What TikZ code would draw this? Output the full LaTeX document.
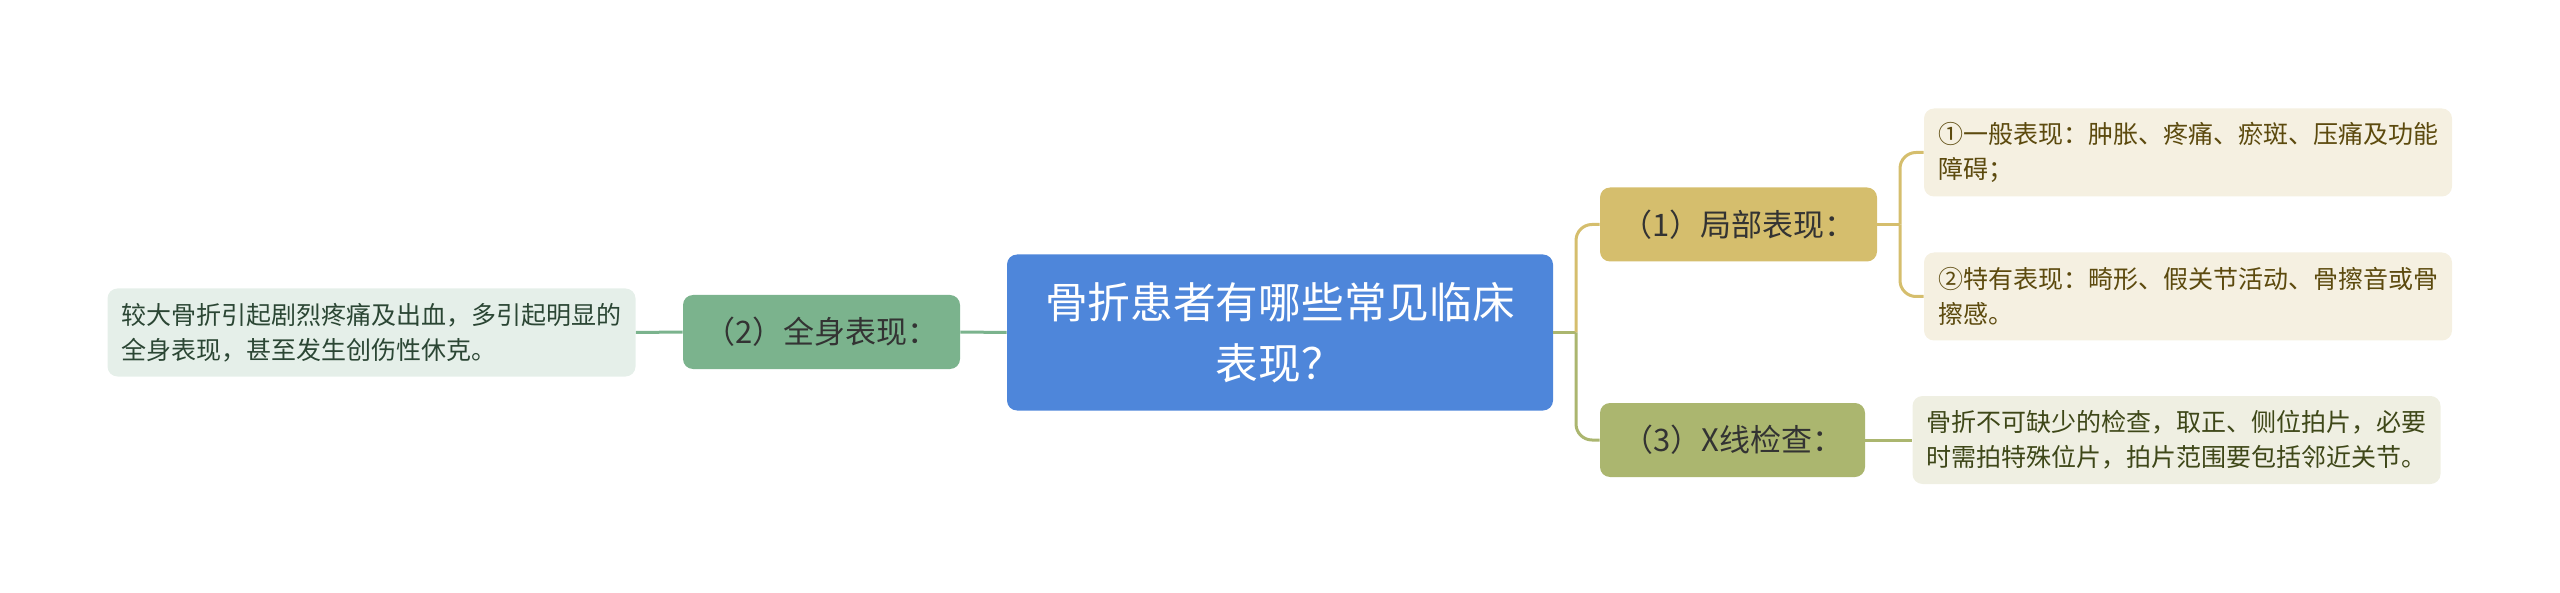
\documentclass[tikz,border=0pt]{standalone}
\usepackage{fontspec}
\setmainfont{Noto Sans CJK SC}
\definecolor{rootblue}{HTML}{4E86DA}
\definecolor{greenbox}{HTML}{7BB38D}
\definecolor{greenleaf}{HTML}{E5EFE9}
\definecolor{greentext}{HTML}{2B4634}
\definecolor{tanbox}{HTML}{D5BE6D}
\definecolor{tanleaf}{HTML}{F5F0E1}
\definecolor{tantext}{HTML}{5C4A0E}
\definecolor{olivebox}{HTML}{ABB66F}
\definecolor{oliveleaf}{HTML}{EFEFE2}
\definecolor{olivetext}{HTML}{3E4718}
\begin{document}
\begin{tikzpicture}[x=0.5pt, y=-0.5pt,
    box/.style={rounded corners=5pt, inner sep=0pt, align=left},
    topic/.style={box, text=black!80, font=\fontsize{15.5}{18}\selectfont,
        minimum height=37pt},
    leaf/.style={box, font=\fontsize{12.5}{17.5}\selectfont,
        minimum width=264pt, minimum height=44pt},
    link/.style={line width=1.5pt}
]
    \useasboundingbox (0,0) rectangle (2560,593);

    % Mittelknoten
    \node[box, fill=rootblue, text=white, align=center,
        font=\fontsize{21.35}{30.5}\selectfont,
        minimum width=273pt, minimum height=78pt] (root) at (1280,332.5)
        {骨折患者有哪些常见临床\\表现？};

    % Links
    \node[topic, fill=greenbox, minimum width=138.5pt] (whole) at (821.5,332)
        {（2）全身表现：};
    \node[leaf, fill=greenleaf, text=greentext] (wholeA) at (371.5,332.5)
        {较大骨折引起剧烈疼痛及出血，多引起明显的\\全身表现，甚至发生创伤性休克。};

    \draw[link, greenbox] (root.west) -- (whole.east);
    \draw[link, greenbox] (whole.west) -- (wholeA.east);

    % Rechts
    \node[topic, fill=tanbox, minimum width=138.5pt] (local) at (1738.5,224.5)
        {（1）局部表现：};
    \node[topic, fill=olivebox, minimum width=132.5pt] (xray) at (1732.5,440)
        {（3）X线检查：};

    \node[leaf, fill=tanleaf, text=tantext] (localA) at (2188,152.5)
        {①一般表现：肿胀、疼痛、瘀斑、压痛及功能\\障碍；};
    \node[leaf, fill=tanleaf, text=tantext] (localB) at (2188,296.5)
        {②特有表现：畸形、假关节活动、骨擦音或骨\\擦感。};
    \node[leaf, fill=oliveleaf, text=olivetext] (xrayA) at (2176.5,440)
        {骨折不可缺少的检查，取正、侧位拍片，必要\\时需拍特殊位片，拍片范围要包括邻近关节。};

    \coordinate (rootjoin) at (1576,332.5);
    \coordinate (localjoin) at (1900,224.5);

    \draw[link, olivebox] (root.east) -- (rootjoin);
    \draw[link, tanbox, rounded corners=8pt] (rootjoin) |- (local.west);
    \draw[link, olivebox, rounded corners=8pt] (rootjoin) |- (xray.west);

    \draw[link, tanbox] (local.east) -- (localjoin);
    \foreach \l in {localA,localB}
    {\draw[link, tanbox, rounded corners=8pt] (localjoin) |- (\l.west);}

    \draw[link, olivebox] (xray.east) -- (xrayA.west);
\end{tikzpicture}
\end{document}
